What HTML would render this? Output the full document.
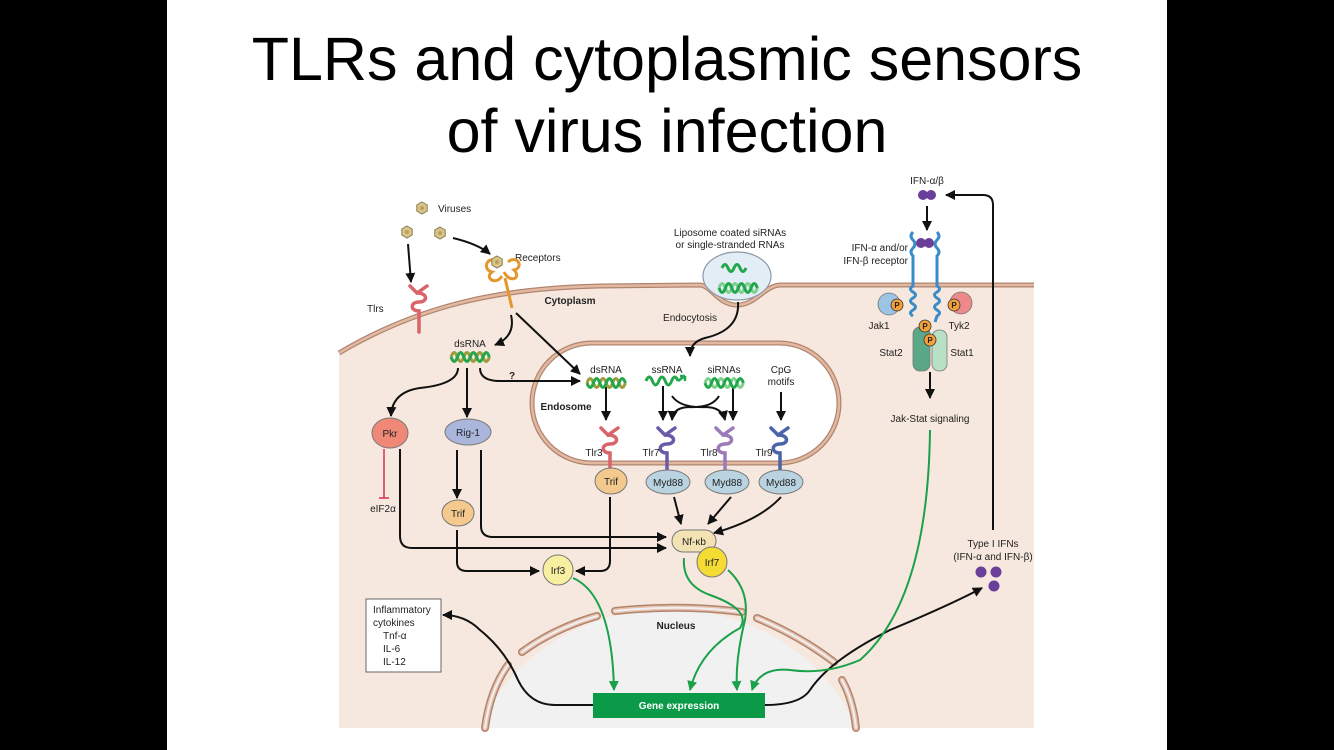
<!DOCTYPE html>
<html><head><meta charset="utf-8"><style>
html,body{margin:0;padding:0;background:#000;}
svg{display:block}
text{font-family:"Liberation Sans",sans-serif;fill:#222}
.s{font-size:10px}
.b{font-weight:bold}
</style></head><body>
<svg width="1334" height="750" viewBox="0 0 1334 750" xmlns="http://www.w3.org/2000/svg">
<defs>
<marker id="ah" viewBox="0 0 10 10" refX="9" refY="5" markerWidth="5" markerHeight="5" orient="auto"><path d="M0,0 L10,5 L0,10 z" fill="#111"/></marker>
<marker id="ag" viewBox="0 0 10 10" refX="9" refY="5" markerWidth="5" markerHeight="5" orient="auto"><path d="M0,0 L10,5 L0,10 z" fill="#1aa14a"/></marker>
<g id="ds"><path d="M-19,0 q3.2,-9 6.4,0 t6.4,0 t6.4,0 t6.4,0 t6.4,0 t6.4,0" fill="none" stroke="#9f9a3a" stroke-width="3"/><path d="M-19,0 q3.2,9 6.4,0 t6.4,0 t6.4,0 t6.4,0 t6.4,0 t6.4,0" fill="none" stroke="#22a74a" stroke-width="3"/></g>
<g id="si"><path d="M-19,0 q3.2,-9 6.4,0 t6.4,0 t6.4,0 t6.4,0 t6.4,0 t6.4,0" fill="none" stroke="#7fcf8f" stroke-width="3"/><path d="M-19,0 q3.2,9 6.4,0 t6.4,0 t6.4,0 t6.4,0 t6.4,0 t6.4,0" fill="none" stroke="#22a74a" stroke-width="3"/></g>
<g id="vir"><polygon points="0,-6 5.2,-3 5.2,3 0,6 -5.2,3 -5.2,-3" fill="#d9c58a" stroke="#8a7a4a" stroke-width="1"/><circle r="2" fill="#b8a060"/></g>
<path id="tlr" d="M-9,-6 L-2,1 L8,-6 M-2,1 C9,1 9,10 0,10 C-9,10 -9,19 0,19 L0,40" fill="none" stroke-width="3.5" stroke-linecap="round"/>
</defs>
<rect x="167" y="0" width="1000" height="750" fill="#fff"/>
<text x="667" y="80" text-anchor="middle" style="font-size:61px;fill:#000">TLRs and cytoplasmic sensors</text>
<text x="667" y="152" text-anchor="middle" style="font-size:61px;fill:#000">of virus infection</text>

<path d="M339,353 C420,305 500,288 600,286 L700,285 C712,286 718,305 737,305 C756,305 764,286 780,285 L1034,285 L1034,728 L339,728 Z" fill="#f6e8de"/>
<path d="M339,353 C420,305 500,288 600,286 L700,285 C712,286 718,305 737,305 C756,305 764,286 780,285 L1034,285" fill="none" stroke="#b08570" stroke-width="5"/>
<path d="M339,353 C420,305 500,288 600,286 L700,285 C712,286 718,305 737,305 C756,305 764,286 780,285 L1034,285" fill="none" stroke="#e2b9a0" stroke-width="2.5"/>

<path d="M480,728 A200,180 0 0 1 856,728 Z" fill="#f1f1f1"/>
<g fill="none" stroke-linecap="round">
<g stroke="#b08570" stroke-width="8">
<path d="M485,728 Q490,690 508,665"/><path d="M522,652 Q555,628 597,616"/><path d="M615,611 Q680,604 742,612"/><path d="M757,618 Q800,636 834,662"/><path d="M842,680 Q853,700 856,728"/></g>
<g stroke="#e9c0a8" stroke-width="5">
<path d="M485,728 Q490,690 508,665"/><path d="M522,652 Q555,628 597,616"/><path d="M615,611 Q680,604 742,612"/><path d="M757,618 Q800,636 834,662"/><path d="M842,680 Q853,700 856,728"/></g>
<g stroke="#eef0f6" stroke-width="2">
<path d="M485,728 Q490,690 508,665"/><path d="M522,652 Q555,628 597,616"/><path d="M615,611 Q680,604 742,612"/><path d="M757,618 Q800,636 834,662"/><path d="M842,680 Q853,700 856,728"/></g>
</g>
<text x="676" y="629" text-anchor="middle" class="s b">Nucleus</text>

<rect x="532" y="343" width="307" height="120" rx="60" fill="#fff" stroke="#b08570" stroke-width="5"/>
<rect x="532" y="343" width="307" height="120" rx="60" fill="none" stroke="#e2b9a0" stroke-width="2.5"/>
<text x="566" y="410" text-anchor="middle" class="s b">Endosome</text>

<ellipse cx="737" cy="276" rx="34" ry="24" fill="#e3edf5" stroke="#8a9aa8" stroke-width="1.2"/>
<path d="M722,268 q3,-7 6,0 t6,0 t6,0 t6,0" fill="none" stroke="#22a74a" stroke-width="3"/>
<use href="#si" x="738" y="288"/>
<text x="730" y="236" text-anchor="middle" class="s">Liposome coated siRNAs</text>
<text x="730" y="248" text-anchor="middle" class="s">or single-stranded RNAs</text>
<text x="690" y="321" text-anchor="middle" class="s">Endocytosis</text>
<text x="570" y="304" text-anchor="middle" class="s b">Cytoplasm</text>

<use href="#vir" x="422" y="208"/><use href="#vir" x="407" y="232"/><use href="#vir" x="440" y="233"/>
<text x="438" y="212" class="s">Viruses</text>
<text x="367" y="312" class="s">Tlrs</text>
<use href="#tlr" x="419" y="292" stroke="#d9646a"/>
<text x="515" y="261" class="s">Receptors</text>
<path d="M500,262 c-14,-8 -18,8 -8,10 c-8,6 4,14 10,4 M508,262 c10,-8 16,6 6,8 c8,8 -4,14 -10,2 M505,278 L512,308" fill="none" stroke="#e6962e" stroke-width="3"/>
<use href="#vir" x="497" y="262"/>

<g fill="none" stroke="#111" stroke-width="2" marker-end="url(#ah)">
<path d="M408,244 L411,282"/>
<path d="M453,238 Q478,244 490,254"/>
<path d="M511,315 Q516,336 495,345"/>
<path d="M516,313 L580,374"/>
<path d="M738,302 Q740,330 705,338 Q690,342 690,356"/>
<path d="M458,368 Q458,384 420,388 Q392,392 391,416"/>
<path d="M467,368 L467,417"/>
<path d="M480,368 Q480,381 500,381 L580,381"/>
<path d="M606,387 L606,420"/><path d="M663,386 L663,420"/><path d="M733,386 L733,420"/><path d="M781,392 L781,420"/>
<path d="M672,396 Q680,408 705,407 Q722,407 725,420"/>
<path d="M719,396 Q712,408 690,407 Q673,407 672,420"/>
<path d="M457,450 L457,498"/>
<path d="M400,449 L400,536 Q400,548 412,548 L666,548"/>
<path d="M481,450 L481,526 Q481,537 493,537 L666,537"/>
<path d="M457,530 L457,562 Q457,571 467,571 L539,571"/>
<path d="M610,497 L610,561 Q610,571 600,571 L576,571"/>
<path d="M674,497 L681,524"/><path d="M731,497 L708,524"/>
<path d="M781,497 Q760,520 714,533"/>
<path d="M930,372 L930,398"/>
<path d="M927,206 L927,230"/>
<path d="M993,530 L993,205 Q993,195 983,195 L946,195"/>
<path d="M765,705 Q800,705 810,690 Q830,660 890,630 Q950,605 982,588"/>
<path d="M593,705 L555,705 Q530,705 518,680 Q505,650 480,630 Q465,615 443,615"/>
</g>
<text x="512" y="379" text-anchor="middle" class="s b">?</text>

<text x="470" y="347" text-anchor="middle" class="s">dsRNA</text>
<use href="#ds" x="470" y="357"/>

<text x="606" y="373" text-anchor="middle" class="s">dsRNA</text><use href="#ds" x="606" y="383"/>
<text x="667" y="373" text-anchor="middle" class="s">ssRNA</text>
<path d="M646,381 q3.2,-8 6.4,0 t6.4,0 t6.4,0 t6.4,0 t6.4,0" fill="none" stroke="#22a74a" stroke-width="3"/>
<path d="M678,381 l7,-5 M685,376 l-5,0 M685,376 l0,5" stroke="#22a74a" stroke-width="2.5" fill="none"/>
<text x="724" y="373" text-anchor="middle" class="s">siRNAs</text><use href="#si" x="724" y="383"/>
<text x="781" y="373" text-anchor="middle" class="s">CpG</text>
<text x="781" y="385" text-anchor="middle" class="s">motifs</text>

<use href="#tlr" x="610" y="434" stroke="#d9646a"/>
<use href="#tlr" x="667" y="434" stroke="#6a5aa8"/>
<use href="#tlr" x="725" y="434" stroke="#9a7ab8"/>
<use href="#tlr" x="780" y="434" stroke="#4a64a8"/>
<text x="594" y="456" text-anchor="middle" class="s">Tlr3</text>
<text x="651" y="456" text-anchor="middle" class="s">Tlr7</text>
<text x="709" y="456" text-anchor="middle" class="s">Tlr8</text>
<text x="764" y="456" text-anchor="middle" class="s">Tlr9</text>

<g stroke="#777" stroke-width="1">
<ellipse cx="611" cy="481" rx="16" ry="13" fill="#f3c98e"/>
<ellipse cx="668" cy="482" rx="22" ry="12" fill="#b9d3e0"/>
<ellipse cx="727" cy="482" rx="22" ry="12" fill="#b9d3e0"/>
<ellipse cx="781" cy="482" rx="22" ry="12" fill="#b9d3e0"/>
<ellipse cx="390" cy="433" rx="18" ry="15" fill="#f08878"/>
<ellipse cx="468" cy="432" rx="23" ry="13" fill="#aab6dc"/>
<ellipse cx="458" cy="513" rx="16" ry="13" fill="#f3c98e"/>
<circle cx="558" cy="570" r="15" fill="#f8efa0"/>
<rect x="672" y="530" width="44" height="22" rx="11" fill="#f3e2b4"/>
<circle cx="712" cy="562" r="15" fill="#f5dc34"/>
</g>
<g text-anchor="middle">
<text x="611" y="485" class="s">Trif</text>
<text x="668" y="486" class="s">Myd88</text><text x="727" y="486" class="s">Myd88</text><text x="781" y="486" class="s">Myd88</text>
<text x="390" y="437" class="s">Pkr</text><text x="468" y="436" class="s">Rig-1</text>
<text x="458" y="517" class="s">Trif</text><text x="558" y="574" class="s">Irf3</text>
<text x="694" y="545" class="s">Nf-κb</text><text x="712" y="566" class="s">Irf7</text>
</g>
<path d="M384,449 L384,498 M379,498 L389,498" stroke="#d8304a" stroke-width="1.5" fill="none"/>
<text x="383" y="512" text-anchor="middle" class="s">eIF2α</text>

<rect x="366" y="599" width="75" height="73" fill="#fff" stroke="#666" stroke-width="1"/>
<text x="373" y="613" class="s">Inflammatory</text>
<text x="373" y="626" class="s">cytokines</text>
<text x="383" y="639" class="s">Tnf-α</text>
<text x="383" y="652" class="s">IL-6</text>
<text x="383" y="665" class="s">IL-12</text>

<rect x="593" y="693" width="172" height="25" fill="#0a9a48"/>
<text x="679" y="709" text-anchor="middle" class="s b" style="fill:#fff">Gene expression</text>

<g fill="none" stroke="#1aa14a" stroke-width="2" marker-end="url(#ag)">
<path d="M573,578 Q612,595 614,690"/>
<path d="M684,558 Q682,585 710,595 Q752,610 740,628 Q700,650 690,690"/>
<path d="M728,570 Q750,590 745,620 Q735,660 737,690"/>
<path d="M930,430 Q928,600 860,660 Q825,675 790,670 Q760,667 752,690"/>
</g>

<text x="927" y="184" text-anchor="middle" class="s">IFN-α/β</text>
<circle cx="923" cy="195" r="5" fill="#6a3f9a"/><circle cx="931" cy="195" r="5" fill="#6a3f9a"/>
<text x="908" y="251" text-anchor="end" class="s">IFN-α and/or</text>
<text x="908" y="264" text-anchor="end" class="s">IFN-β receptor</text>
<g fill="none" stroke="#3a8cc8" stroke-width="3">
<path d="M913,232 q-4,4 0,8 q4,4 0,8 q-4,4 0,8 L913,286 q-5,3 0,6 q5,3 0,6 q-5,3 0,6 q5,3 0,6 q-5,3 0,6"/>
<path d="M937,232 q4,4 0,8 q-4,4 0,8 q4,4 0,8 L937,286 q5,3 0,6 q-5,3 0,6 q5,3 0,6 q-5,3 0,6 q5,3 0,6 L935,322"/>
</g>
<circle cx="921" cy="243" r="5" fill="#6a3f9a"/><circle cx="929" cy="243" r="5" fill="#6a3f9a"/>
<circle cx="889" cy="304" r="11" fill="#9cc4e4" stroke="#777" stroke-width="0.8"/>
<circle cx="961" cy="303" r="11" fill="#ec8a8a" stroke="#777" stroke-width="0.8"/>
<rect x="913" y="327" width="17" height="44" rx="7" fill="#5aa888" stroke="#777" stroke-width="0.8"/>
<rect x="932" y="330" width="15" height="41" rx="7" fill="#b8e0c4" stroke="#777" stroke-width="0.8"/>
<g fill="#f4a038" stroke="#333" stroke-width="0.8">
<circle cx="897" cy="305" r="6"/><circle cx="954" cy="305" r="6"/><circle cx="925" cy="326" r="6"/><circle cx="930" cy="340" r="6"/></g>
<g font-weight="bold" text-anchor="middle">
<text x="897" y="308" style="font-size:8px">P</text><text x="954" y="308" style="font-size:8px">P</text><text x="925" y="329" style="font-size:8px">P</text><text x="930" y="343" style="font-size:8px">P</text></g>
<text x="879" y="329" text-anchor="middle" class="s">Jak1</text>
<text x="959" y="329" text-anchor="middle" class="s">Tyk2</text>
<text x="891" y="356" text-anchor="middle" class="s">Stat2</text>
<text x="962" y="356" text-anchor="middle" class="s">Stat1</text>
<text x="930" y="422" text-anchor="middle" class="s">Jak-Stat signaling</text>

<text x="993" y="547" text-anchor="middle" class="s">Type I IFNs</text>
<text x="993" y="560" text-anchor="middle" class="s">(IFN-α and IFN-β)</text>
<circle cx="981" cy="572" r="5.5" fill="#6a3f9a"/><circle cx="996" cy="572" r="5.5" fill="#6a3f9a"/><circle cx="994" cy="586" r="5.5" fill="#6a3f9a"/>
</svg>
</body></html>
